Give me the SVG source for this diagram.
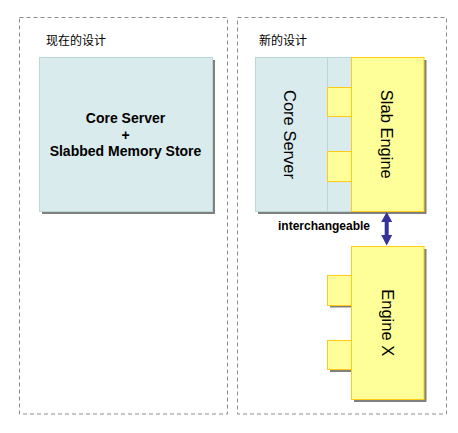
<svg xmlns="http://www.w3.org/2000/svg" width="458" height="433" viewBox="0 0 458 433">
<defs>
<style>
.frame{fill:none;stroke:#8c8c8c;stroke-width:1;stroke-dasharray:4,3}
.title{font-family:"Noto Sans CJK SC","Noto Sans CJK JP",sans-serif;font-size:12px;fill:#000}
.blue{fill:#DAEBED;stroke:#B9D9D9;stroke-width:1}
.yellow{fill:#FFFF99;stroke:#FFCC11;stroke-width:1}
.shadow{fill:#808080}
.lbl{font-family:"Liberation Sans",Arial,sans-serif;fill:#000}
.bold{font-weight:bold}
.vert{font-size:16.5px;text-anchor:middle}
</style>
</defs>
<rect width="458" height="433" fill="#fff"/>
<g id="frames">
<rect class="frame" x="19.5" y="17.5" width="208" height="396.5"/>
<rect class="frame" x="237.5" y="17.5" width="209" height="396.5"/>
<text class="title" x="46" y="45">现在的设计</text>
<text class="title" x="259" y="45">新的设计</text>
</g>
<g id="current-design">
<rect class="shadow" x="42" y="60" width="173" height="154"/>
<rect class="blue" x="39.5" y="57.5" width="173" height="154"/>
<text class="lbl bold" font-size="14" text-anchor="middle" x="125.5" y="123.3">Core Server</text>
<text class="lbl bold" font-size="14" text-anchor="middle" x="125.5" y="139.5">+</text>
<text class="lbl bold" font-size="14" text-anchor="middle" x="125.5" y="155.5">Slabbed Memory Store</text>
</g>
<g id="core-server">
<rect class="shadow" x="258" y="60" width="96" height="154"/>
<rect class="blue" x="255.5" y="57.5" width="96" height="154"/>
<line x1="327.5" y1="57.5" x2="327.5" y2="211.5" stroke="#B9D9D9" stroke-width="1"/>
<text class="lbl vert" transform="translate(283.5,134.5) rotate(90)">Core Server</text>
</g>
<g id="slab-engine">
<rect class="shadow" x="354" y="60" width="72.5" height="154"/>
<rect class="yellow" x="351.5" y="57.5" width="72.5" height="154"/>
<rect class="yellow" x="327.5" y="87.5" width="24" height="29"/>
<rect class="yellow" x="327.5" y="151.5" width="24" height="30"/>
<text class="lbl vert" transform="translate(381,134.3) rotate(90)">Slab Engine</text>
</g>
<g id="engine-x">
<rect class="shadow" x="330" y="278" width="24" height="29.5"/>
<rect class="shadow" x="330" y="342.5" width="24" height="29.5"/>
<rect class="shadow" x="354" y="249" width="72.5" height="153"/>
<rect class="yellow" x="351.5" y="246.5" width="72.5" height="153"/>
<rect class="yellow" x="327.5" y="275.5" width="24" height="30"/>
<rect class="yellow" x="327.5" y="340.5" width="24" height="29"/>
<text class="lbl vert" transform="translate(381.5,322.7) rotate(90)">Engine X</text>
</g>
<g id="connectors">
<path d="M386.7,212 L392.2,222 L388.7,222 L388.7,235 L392.2,235 L386.7,245.5 L381.2,235 L384.7,235 L384.7,222 L381.2,222 Z" fill="#333399"/>
<text class="lbl bold" font-size="12" x="278" y="229.5">interchangeable</text>
</g>
</svg>
